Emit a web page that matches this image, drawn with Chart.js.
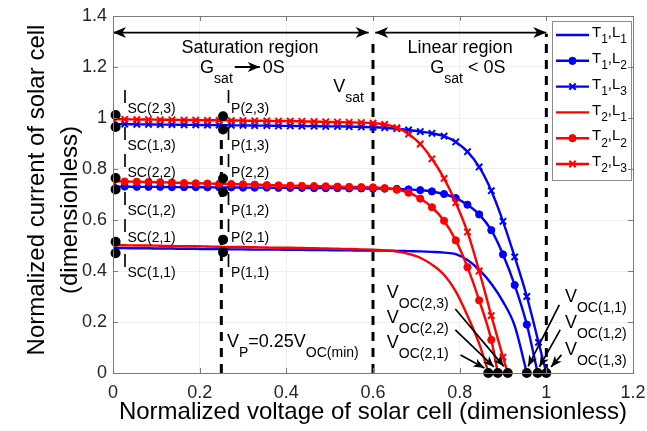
<!DOCTYPE html>
<html>
<head>
<meta charset="utf-8">
<script src="https://cdn.jsdelivr.net/npm/chart.js@4.4.1/dist/chart.umd.min.js"></script>
<style>
  html, body { margin: 0; padding: 0; background: #fff; }
</style>
</head>
<body>
<canvas id="chart" width="647" height="431"></canvas>
<script>
// normalized voltage grid shared by every curve
var xs = [0, 0.027, 0.055, 0.082, 0.109, 0.136, 0.164, 0.191, 0.218, 0.245,
          0.273, 0.3, 0.327, 0.355, 0.382, 0.409, 0.436, 0.464, 0.491, 0.518,
          0.545, 0.573, 0.6, 0.627, 0.655, 0.682, 0.709, 0.736, 0.764, 0.791,
          0.818, 0.845, 0.873, 0.9, 0.927, 0.955, 0.982];

// normalized current, T1 (blue)
var t1l1 = [0.490, 0.490, 0.489, 0.489, 0.488, 0.488, 0.487, 0.487, 0.486, 0.486,
            0.485, 0.485, 0.484, 0.484, 0.484, 0.483, 0.483, 0.482, 0.482, 0.481,
            0.481, 0.480, 0.480, 0.480, 0.479, 0.478, 0.477, 0.475, 0.472, 0.466,
            0.443, 0.405, 0.350, 0.280, 0.185];
var t1l2 = [0.731, 0.731, 0.730, 0.730, 0.730, 0.729, 0.729, 0.729, 0.728, 0.728,
            0.728, 0.727, 0.727, 0.727, 0.726, 0.726, 0.726, 0.725, 0.725, 0.725,
            0.724, 0.724, 0.723, 0.723, 0.722, 0.720, 0.717, 0.712, 0.702, 0.686,
            0.660, 0.622, 0.560, 0.465, 0.345, 0.190];
var t1l3 = [0.976, 0.976, 0.975, 0.975, 0.974, 0.974, 0.973, 0.973, 0.972, 0.972,
            0.971, 0.971, 0.970, 0.970, 0.969, 0.969, 0.968, 0.968, 0.967, 0.967,
            0.966, 0.965, 0.964, 0.962, 0.958, 0.953, 0.947, 0.940, 0.929, 0.906,
            0.868, 0.808, 0.715, 0.595, 0.455, 0.300, 0.120];
// normalized current, T2 (red)
var t2l1 = [0.502, 0.501, 0.500, 0.500, 0.499, 0.498, 0.497, 0.497, 0.496, 0.495,
            0.494, 0.494, 0.493, 0.492, 0.491, 0.491, 0.490, 0.489, 0.488, 0.487,
            0.486, 0.485, 0.484, 0.481, 0.476, 0.467, 0.452, 0.425, 0.385, 0.320,
            0.225, 0.115];
var t2l2 = [0.752, 0.751, 0.750, 0.749, 0.748, 0.747, 0.745, 0.744, 0.743, 0.742,
            0.741, 0.740, 0.739, 0.737, 0.736, 0.735, 0.734, 0.733, 0.732, 0.731,
            0.730, 0.729, 0.728, 0.725, 0.719, 0.707, 0.684, 0.650, 0.597, 0.520,
            0.415, 0.285, 0.130];
var t2l3 = [0.995, 0.995, 0.994, 0.994, 0.993, 0.993, 0.992, 0.992, 0.991, 0.991,
            0.990, 0.990, 0.989, 0.989, 0.988, 0.988, 0.987, 0.986, 0.985, 0.984,
            0.983, 0.982, 0.980, 0.975, 0.962, 0.937, 0.898, 0.840, 0.763, 0.668,
            0.553, 0.400, 0.225, 0.062];

// open circuit voltages (curve end points)
var voc = { t1l1: 0.955, t1l2: 0.98, t1l3: 1.0, t2l1: 0.867, t2l2: 0.888, t2l3: 0.911 };

// marked points: I_SC at V=0, I_P at V_P, V_OC at I=0
var iscDotY = [1.012, 0.965, 0.765, 0.72, 0.515, 0.47];
var iscDotX = 0.006;
var ipDotY = [1.007, 0.955, 0.763, 0.71, 0.523, 0.474];
var ipDotX = 0.254;
var vocDotX = [0.866, 0.888, 0.911, 0.955, 0.98, 1.0];

var xTicks = [0, 0.2, 0.4, 0.6, 0.8, 1, 1.2];
var yTicks = [0, 0.2, 0.4, 0.6, 0.8, 1, 1.2, 1.4];

var FONT = '"Liberation Sans", Arial, Helvetica, sans-serif';
var BLUE = '#0000ff', RED = '#ff0000';

function curve(ys, v) {
    var pts = [];
    for (var i = 0; i < ys.length; i++) {
        pts.push({x: xs[i], y: ys[i]});
    }
    pts.push({x: v, y: 0});
    return pts;
}

var dots = [];
iscDotY.forEach(function(y){ dots.push({x: iscDotX, y: y}); });
ipDotY.forEach(function(y){ dots.push({x: ipDotX, y: y}); });
vocDotX.forEach(function(x){ dots.push({x: x, y: 0}); });

function series(label, ys, v, color, style) {
    return {
        label: label,
        data: curve(ys, v),
        showLine: true,
        borderColor: color,
        backgroundColor: color,
        borderWidth: 2.4,
        cubicInterpolationMode: 'monotone',
        pointStyle: style || 'circle',
        pointRadius: style ? (style === 'circle' ? 3.6 : 4.5) : 0,
        pointBorderWidth: style === 'crossRot' ? 2 : 1,
        pointBackgroundColor: color,
        pointBorderColor: color,
        order: color === BLUE ? 3 : 2
    };
}

// rich text: parts = [[text, isSub], ...]
function rich(ctx, parts, x, y, align, sizes) {
    var main = (sizes ? sizes[0] : 18) + 'px ' + FONT;
    var sub = (sizes ? sizes[1] : 14) + 'px ' + FONT;
    var off = sizes ? sizes[2] : 11;
    var w = 0;
    parts.forEach(function(p){ ctx.font = p[1] ? sub : main; w += ctx.measureText(p[0]).width; });
    var cx = align === 'center' ? x - w / 2 : x;
    ctx.textAlign = 'left';
    ctx.textBaseline = 'middle';
    parts.forEach(function(p){
        ctx.font = p[1] ? sub : main;
        ctx.fillText(p[0], cx, p[1] ? y + off : y);
        cx += ctx.measureText(p[0]).width;
    });
    return cx;
}

function arrowHead(ctx, x0, y0, x1, y1, len, wid) {
    var a = Math.atan2(y1 - y0, x1 - x0);
    ctx.save();
    ctx.translate(x1, y1);
    ctx.rotate(a);
    ctx.beginPath();
    ctx.moveTo(0, 0);
    ctx.lineTo(-len, -wid / 2);
    ctx.lineTo(-len * 0.72, 0);
    ctx.lineTo(-len, wid / 2);
    ctx.closePath();
    ctx.fill();
    ctx.restore();
}

function arrow(ctx, x0, y0, x1, y1, both, len, wid, lw) {
    ctx.lineWidth = lw || 1.6;
    ctx.beginPath();
    ctx.moveTo(x0, y0);
    ctx.lineTo(x1, y1);
    ctx.stroke();
    arrowHead(ctx, x0, y0, x1, y1, len, wid);
    if (both) arrowHead(ctx, x1, y1, x0, y0, len, wid);
}

var annotations = {
    id: 'annotations',
    beforeDatasetsDraw: function(chart) {
        var ctx = chart.ctx, xs_ = chart.scales.x, ys_ = chart.scales.y;
        ctx.save();
        ctx.strokeStyle = '#000';
        ctx.lineWidth = 3;
        ctx.setLineDash([9, 7]);
        [[0.25, 1.0], [0.6, 1.31], [1.0, 1.33]].forEach(function(d){
            var px = xs_.getPixelForValue(d[0]);
            ctx.beginPath();
            ctx.moveTo(px, ys_.getPixelForValue(0));
            ctx.lineTo(px, ys_.getPixelForValue(d[1]));
            ctx.stroke();
        });
        ctx.restore();
    },
    afterDatasetsDraw: function(chart) {
        var ctx = chart.ctx, sx = chart.scales.x, sy = chart.scales.y;
        var X = function(v){ return sx.getPixelForValue(v); };
        var Y = function(v){ return sy.getPixelForValue(v); };
        var a = chart.chartArea;
        ctx.save();
        ctx.fillStyle = '#000';
        ctx.strokeStyle = '#000';

        // region arrows
        var ay = Y(1.335);
        arrow(ctx, X(0), ay, X(0.59), ay, true, 13, 11, 1.8);
        arrow(ctx, X(0.605), ay, X(1.0), ay, true, 13, 11, 1.8);

        rich(ctx, [['Saturation region', false]], X(0.316), Y(1.275), 'center');
        var end = rich(ctx, [['G', false], ['sat', true]], X(0.201), Y(1.196), 'left');
        arrow(ctx, end + 2, Y(1.2), end + 27, Y(1.2), false, 12, 10, 2);
        rich(ctx, [['0S', false]], end + 30, Y(1.196), 'left');
        rich(ctx, [['Linear region', false]], X(0.801), Y(1.275), 'center');
        rich(ctx, [['G', false], ['sat', true], [' < 0S', false]], X(0.732), Y(1.196), 'left');
        rich(ctx, [['V', false], ['sat', true]], X(0.508), Y(1.122), 'left');

        // short circuit and V_P current labels
        var lab = [['(2,3)', 1.078], ['(1,3)', 0.933], ['(2,2)', 0.827],
                   ['(1,2)', 0.678], ['(2,1)', 0.573], ['(1,1)', 0.435]];
        lab.forEach(function(l){
            rich(ctx, [['I', false], ['SC' + l[0], true]], X(0.022), Y(l[1]), 'left');
            rich(ctx, [['I', false], ['P' + l[0], true]], X(0.261), Y(l[1]), 'left');
        });
        rich(ctx, [['V', false], ['P', true], ['=0.25V', false], ['OC(min)', true]], X(0.263), Y(0.122), 'left');

        // open circuit labels and arrows
        var vl = [['(2,3)', 0.632, 0.314, 0.79, 0.251, 0.902, 0.026],
                  ['(2,2)', 0.632, 0.216, 0.79, 0.169, 0.879, 0.024],
                  ['(2,1)', 0.632, 0.118, 0.802, 0.071, 0.857, 0.02],
                  ['(1,1)', 1.043, 0.298, 1.03, 0.267, 0.958, 0.026],
                  ['(1,2)', 1.043, 0.196, 1.032, 0.169, 0.984, 0.024],
                  ['(1,3)', 1.043, 0.090, 1.035, 0.071, 1.011, 0.024]];
        vl.forEach(function(l){
            rich(ctx, [['V', false], ['OC' + l[0], true]], X(l[1]), Y(l[2]), 'left');
            arrow(ctx, X(l[3]), Y(l[4]), X(l[5]), Y(l[6]), false, 11, 9, 1.7);
        });

        // legend
        var lx = a.right - 81, ly = a.top + 5, lw = 79, lh = 159;
        ctx.fillStyle = '#fff';
        ctx.fillRect(lx, ly, lw, lh);
        ctx.strokeStyle = '#8c8c8c';
        ctx.lineWidth = 1;
        ctx.strokeRect(lx + 0.5, ly + 0.5, lw, lh);
        chart.data.datasets.forEach(function(ds, i){
            if (!ds.legend) return;
            var ry = ly + 14 + ds.legend[0] * 25.8;
            ctx.strokeStyle = ds.borderColor;
            ctx.fillStyle = ds.borderColor;
            ctx.lineWidth = 2.4;
            ctx.beginPath();
            ctx.moveTo(lx + 4, ry);
            ctx.lineTo(lx + 37, ry);
            ctx.stroke();
            if (ds.pointRadius > 0) {
                ctx.lineWidth = ds.pointBorderWidth;
                Chart.helpers.drawPoint(ctx, {pointStyle: ds.pointStyle, radius: ds.pointRadius, borderWidth: ds.pointBorderWidth}, lx + 20.5, ry);
                if (ds.pointStyle === 'circle') ctx.fill();
            }
            ctx.fillStyle = '#000';
            rich(ctx, [['T', false], [ds.legend[1], true], [',L', false], [ds.legend[2], true]], lx + 40, ry - 2, 'left', [15, 12, 7]);
        });

        ctx.restore();
    },
    afterDraw: function(chart) {
        var ctx = chart.ctx, a = chart.chartArea, sx = chart.scales.x, sy = chart.scales.y;
        ctx.save();
        // box and inward ticks
        ctx.strokeStyle = '#7a7a7a';
        ctx.lineWidth = 1;
        ctx.strokeRect(Math.round(a.left) + 0.5, Math.round(a.top) + 0.5, Math.round(a.right - a.left), Math.round(a.bottom - a.top));
        ctx.beginPath();
        xTicks.forEach(function(t){
            var px = Math.round(sx.getPixelForValue(t)) + 0.5;
            ctx.moveTo(px, a.bottom); ctx.lineTo(px, a.bottom - 5);
            ctx.moveTo(px, a.top); ctx.lineTo(px, a.top + 5);
        });
        yTicks.forEach(function(t){
            var py = Math.round(sy.getPixelForValue(t)) + 0.5;
            ctx.moveTo(a.left, py); ctx.lineTo(a.left + 5, py);
            ctx.moveTo(a.right, py); ctx.lineTo(a.right - 5, py);
        });
        ctx.stroke();

        // axis titles
        ctx.fillStyle = '#000';
        ctx.font = '24px ' + FONT;
        ctx.textAlign = 'center';
        ctx.textBaseline = 'middle';
        ctx.fillText('Normalized voltage of solar cell (dimensionless)', (a.left + a.right) / 2, 412);
        ctx.translate(37, 190);
        ctx.rotate(-Math.PI / 2);
        ctx.fillText('Normalized current of solar cell', 0, 0);
        ctx.fillText('(dimensionless)', -20, 33);
        ctx.restore();
    }
};

var datasets = [
    series('T1,L1', t1l1, voc.t1l1, BLUE, null),
    series('T1,L2', t1l2, voc.t1l2, BLUE, 'circle'),
    series('T1,L3', t1l3, voc.t1l3, BLUE, 'crossRot'),
    series('T2,L1', t2l1, voc.t2l1, RED, null),
    series('T2,L2', t2l2, voc.t2l2, RED, 'circle'),
    series('T2,L3', t2l3, voc.t2l3, RED, 'crossRot')
];
datasets.forEach(function(ds, i){
    ds.legend = [i, ds.label.charAt(1), ds.label.charAt(4)];
});
datasets.push({
    label: 'marked points',
    data: dots,
    showLine: false,
    pointRadius: 5,
    pointBackgroundColor: '#000',
    pointBorderColor: '#000',
    pointBorderWidth: 0,
    clip: false,
    order: 0
});

var tickFmt = function(v){ return String(Number(v.toFixed(1))); };

new Chart(document.getElementById('chart').getContext('2d'), {
    type: 'scatter',
    data: { datasets: datasets },
    options: {
        responsive: false,
        animation: false,
        devicePixelRatio: 1,
        layout: { padding: { top: 16, right: 14, left: 0, bottom: 0 } },
        plugins: { legend: { display: false }, tooltip: { enabled: false } },
        scales: {
            x: {
                type: 'linear', min: 0, max: 1.2,
                afterFit: function(s){ s.height = 58; s.paddingLeft = 0; s.paddingRight = 0; },
                afterBuildTicks: function(s){ s.ticks = xTicks.map(function(v){ return {value: v}; }); },
                ticks: { callback: tickFmt, color: '#262626', padding: 9, font: { size: 18, family: FONT }, maxRotation: 0 },
                grid: { color: '#eeeeee', drawTicks: false },
                border: { display: false }
            },
            y: {
                type: 'linear', min: 0, max: 1.4,
                afterFit: function(s){ s.width = 113; s.paddingTop = 0; s.paddingBottom = 0; },
                afterBuildTicks: function(s){ s.ticks = yTicks.map(function(v){ return {value: v}; }); },
                ticks: { callback: tickFmt, color: '#262626', padding: 6, font: { size: 18, family: FONT } },
                grid: { color: '#eeeeee', drawTicks: false },
                border: { display: false }
            }
        }
    },
    plugins: [annotations]
});
</script>
</body>
</html>
